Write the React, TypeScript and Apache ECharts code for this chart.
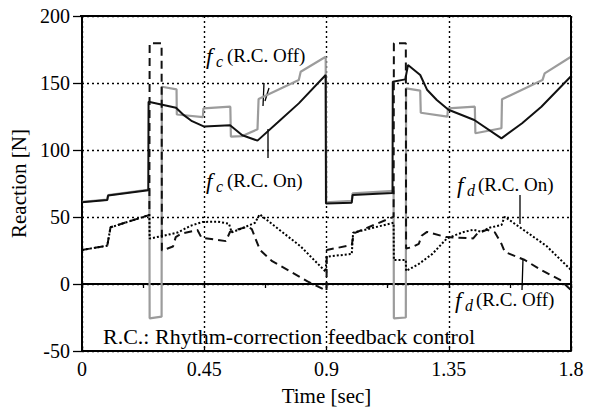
import React, { useEffect, useRef } from "react";
import * as echarts from "echarts";

// Time [sec], Reaction [N]
const fcOff: number[][] = [
  [0, 61.3], [0.093, 63], [0.096, 66.3], [0.248, 70.5], [0.249, -25.6], [0.293, -24.4],
  [0.294, 147.2], [0.348, 145.3], [0.349, 126.5], [0.445, 124.6], [0.447, 131], [0.546, 132.3],
  [0.548, 110], [0.59, 110.4], [0.646, 115.4], [0.65, 138], [0.798, 152.2], [0.805, 158.4],
  [0.897, 169.6], [0.899, 61], [0.993, 62], [0.996, 67.6], [1.147, 69.5], [1.148, -25.6],
  [1.192, -25], [1.193, 146], [1.245, 144.3], [1.247, 127.8], [1.345, 124.9], [1.347, 131.1],
  [1.446, 132.3], [1.448, 112.5], [1.544, 116.2], [1.546, 137.8], [1.695, 152.2], [1.703, 157.2],
  [1.8, 169.6],
];
const fcOn: number[][] = [
  [0, 61], [0.093, 62.7], [0.096, 66], [0.244, 70], [0.245, 136], [0.346, 131.6], [0.375, 126],
  [0.405, 121.5], [0.45, 117.5], [0.545, 118.4], [0.59, 111], [0.646, 107], [0.72, 120.5],
  [0.798, 134.8], [0.897, 156], [0.898, 60], [0.993, 60.7], [0.996, 66.4], [1.143, 68],
  [1.144, 151], [1.19, 152.7], [1.2, 163.4], [1.245, 156], [1.27, 145], [1.306, 137.3],
  [1.349, 130], [1.444, 122.4], [1.544, 108.7], [1.62, 120], [1.691, 132.3], [1.8, 155],
];
const fdOff: number[][] = [
  [0, 25.4], [0.093, 28.6], [0.105, 42.3], [0.248, 51.5], [0.249, 179.6], [0.293, 179.6],
  [0.294, 25], [0.315, 26.5], [0.335, 28], [0.345, 35], [0.365, 37.5], [0.425, 40.3],
  [0.44, 34.5], [0.53, 32], [0.545, 39], [0.61, 42.8], [0.625, 41], [0.655, 25.4], [0.7, 17],
  [0.77, 9], [0.83, 2], [0.9, -5], [0.901, 25.4], [0.993, 29.1], [1.0, 37.8], [1.147, 50.2],
  [1.148, 179.6], [1.192, 179.6], [1.193, 26.5], [1.215, 27.5], [1.24, 30], [1.25, 36],
  [1.27, 38.9], [1.34, 35], [1.44, 34], [1.455, 37.6], [1.49, 40.5], [1.52, 38.5], [1.544, 30],
  [1.556, 24], [1.63, 17.9], [1.69, 10.4], [1.76, 3], [1.8, -4.5],
];
const fdOn: number[][] = [
  [0, 25.4], [0.093, 28.6], [0.105, 42.3], [0.248, 51.5], [0.249, 33.9], [0.3, 36],
  [0.352, 38.4], [0.4, 43.5], [0.444, 46.3], [0.5, 46.5], [0.541, 45], [0.551, 38.5],
  [0.6, 42.5], [0.637, 45.7], [0.654, 52], [0.805, 28], [0.897, 9.2], [0.9, 20.4],
  [0.993, 22.4], [0.998, 38.3], [1.147, 45.7], [1.148, 17.9], [1.192, 17.9], [1.193, 9.7],
  [1.24, 15], [1.29, 22.5], [1.343, 34], [1.4, 38.5], [1.44, 40.5], [1.47, 39], [1.5, 42],
  [1.544, 44], [1.556, 50.2], [1.709, 28.5], [1.8, 10.5],
];

const xTicks = ["0", "0.45", "0.9", "1.35", "1.8"];
const yTicks = ["-50", "0", "50", "100", "150", "200"];
const xTitle = "Time [sec]";
const yTitle = "Reaction [N]";
const noteText = "R.C.: Rhythm-correction feedback control";
const labels = [
  { sym: "f", sub: "c", rest: "(R.C. Off)" },
  { sym: "f", sub: "c", rest: "(R.C. On)" },
  { sym: "f", sub: "d", rest: "(R.C. On)" },
  { sym: "f", sub: "d", rest: "(R.C. Off)" },
];

const FONT = '"Liberation Serif", "Times New Roman", serif';
const W = 593;
const H = 412;
const GRID = { left: 80, right: 22, top: 16, bottom: 61 };

function label(l: { sym: string; sub: string; rest: string }, x: number, y: number) {
  return [
    { type: "text", x, y, style: { text: l.sym, fontFamily: FONT, fontStyle: "italic", fontSize: 23, fill: "#000", verticalAlign: "middle" } },
    { type: "text", x: x + 10, y: y + 5, style: { text: l.sub, fontFamily: FONT, fontStyle: "italic", fontSize: 16, fill: "#000", verticalAlign: "middle" } },
    { type: "text", x: x + 21, y: y - 1, style: { text: l.rest, fontFamily: FONT, fontSize: 19, fill: "#000", verticalAlign: "middle" } },
  ];
}
function leader(x1: number, y1: number, x2: number, y2: number) {
  return { type: "line", shape: { x1, y1, x2, y2 }, style: { stroke: "#000", lineWidth: 1.3 } };
}

export default function App() {
  const ref = useRef<HTMLDivElement>(null);
  useEffect(() => {
    const chart = echarts.init(ref.current!, null, { renderer: "svg" });
    const axisFont = { fontFamily: FONT, fontSize: 20, color: "#000" };
    const frameX1 = GRID.left;
    const frameY1 = GRID.top;
    const frameX2 = W - GRID.right;
    const frameY2 = H - GRID.bottom;
    const option: any = {
      animation: false,
      backgroundColor: "#fff",
      grid: { ...GRID },
      xAxis: [
        {
          type: "value", min: 0, max: 1.8, interval: 0.45, position: "bottom",
          name: xTitle, nameLocation: "middle", nameGap: 34,
          nameTextStyle: { fontFamily: FONT, fontSize: 21, fontWeight: 400, color: "#000" },
          axisLine: { show: true, onZero: false, lineStyle: { color: "#000", width: 2 } },
          axisTick: { show: true, inside: true, length: 4, lineStyle: { color: "#000", width: 1.3 } },
          axisLabel: { ...axisFont, margin: 8, formatter: (v: number) => xTicks[Math.round(v / 0.45)] ?? "" },
          splitLine: { show: true, lineStyle: { color: "#000", type: [2, 3], width: 1.4 } },
        },
        {
          type: "value", min: 0, max: 1.8, interval: 0.225, position: "bottom",
          axisLine: { show: true, onZero: true, lineStyle: { color: "#000", width: 2 } },
          axisTick: { show: true, length: 4, lineStyle: { color: "#000", width: 1.3 } },
          axisLabel: { show: false },
          splitLine: { show: false },
        },
      ],
      yAxis: {
        type: "value", min: -50, max: 200, interval: 50, position: "left",
        name: yTitle, nameLocation: "middle", nameGap: 53,
        nameTextStyle: { fontFamily: FONT, fontSize: 21, fontWeight: 400, color: "#000" },
        axisLine: { show: true, onZero: false, lineStyle: { color: "#000", width: 2 } },
        axisTick: { show: true, inside: false, length: 9, lineStyle: { color: "#000", width: 1.3 } },
        axisLabel: { ...axisFont, margin: 12, formatter: (v: number) => yTicks[Math.round((v + 50) / 50)] ?? "" },
        splitLine: { show: true, lineStyle: { color: "#000", type: [2, 3], width: 1.4 } },
      },
      series: [
        { name: "fc Off", type: "line", data: fcOff, symbol: "none", lineStyle: { color: "#9c9c9c", width: 2.2 }, z: 2 },
        { name: "fc On", type: "line", data: fcOn, symbol: "none", lineStyle: { color: "#111", width: 2 }, z: 3 },
        { name: "fd Off", type: "line", data: fdOff, symbol: "none", lineStyle: { color: "#111", width: 2, type: [8, 5] }, z: 4 },
        { name: "fd On", type: "line", data: fdOn, symbol: "none", lineStyle: { color: "#000", width: 2, type: [2, 2] }, z: 4 },
      ],
      graphic: [
        // plot frame (top and right edges)
        { type: "line", shape: { x1: frameX1, y1: frameY1, x2: frameX2, y2: frameY1 }, style: { stroke: "#000", lineWidth: 2 }, z: 20, silent: true },
        { type: "line", shape: { x1: frameX2, y1: frameY1, x2: frameX2, y2: frameY2 }, style: { stroke: "#000", lineWidth: 2 }, z: 20, silent: true },
        ...label(labels[0], 206, 56),
        ...label(labels[1], 206, 181),
        ...label(labels[2], 457, 185),
        ...label(labels[3], 455, 300),
        leader(264, 83, 263, 106),
        leader(269, 88, 265, 101),
        leader(268, 158, 268, 129),
        leader(520, 195, 520, 224),
        leader(523, 259, 522, 290),
        { type: "text", x: 103, y: 336, style: { text: noteText, fontFamily: FONT, fontSize: 22, fill: "#000", verticalAlign: "middle" } },
      ],
    };
    chart.setOption(option);
    return () => chart.dispose();
  }, []);
  return <div ref={ref} style={{ position: "fixed", left: 0, top: 0, width: W, height: H }} />;
}
